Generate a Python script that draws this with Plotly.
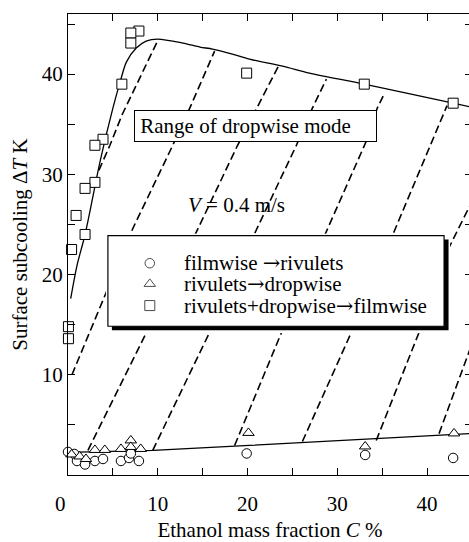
import plotly.graph_objects as go

# ---------------- data ----------------
# filmwise -> rivulets (open circles)
film_c = [0.0, 0.7, 1.0, 1.9, 3.0, 3.9, 5.9, 6.8, 7.0, 7.9, 19.9, 33.1, 42.9]
film_t = [2.3, 2.1, 1.4, 1.05, 1.4, 1.6, 1.4, 1.7, 2.15, 1.4, 2.15, 2.0, 1.7]

# rivulets -> dropwise (open triangles)
riv_c = [0.4, 1.3, 2.0, 3.0, 4.1, 5.9, 7.0, 7.0, 8.1, 20.1, 33.1, 43.0]
riv_t = [2.05, 1.85, 1.6, 2.5, 2.5, 2.6, 3.45, 2.8, 2.6, 4.2, 2.85, 4.15]

# rivulets+dropwise -> filmwise (open squares)
drop_c = [7.9, 7.0, 7.0, 6.0, 3.9, 3.0, 3.0, 1.9, 0.9, 1.9, 0.4, 0.05, 0.05, 19.9, 33.0, 42.9]
drop_t = [44.3, 44.1, 43.1, 39.0, 33.5, 32.9, 29.2, 28.6, 25.9, 24.0, 22.5, 14.8, 13.6, 40.1, 39.0, 37.1]

# upper boundary of the dropwise range
upper_c = [0.3, 1.0, 1.9, 3.6, 5.0, 5.8, 6.5, 7.6, 8.7, 10.0, 12.8, 14.7, 16.1, 18.3,
           20.2, 23.9, 26.9, 33.0, 42.9, 45.0]
upper_t = [17.6, 20.9, 24.0, 31.4, 36.6, 39.2, 41.2, 42.6, 43.3, 43.5, 43.1, 42.7, 42.5, 42.0,
           41.5, 40.8, 40.1, 39.0, 37.1, 36.7]

# lower boundary (onset of rivulets)
lower_c = [0.0, 9.5, 20.2, 26.1, 45.0]
lower_t = [2.25, 2.45, 2.95, 3.25, 4.15]

# dashed guide lines inside the dropwise range
dash1_c = [0.44, 4.33, 7.22, 11.67, 13.56, 16.33]
dash1_t = [10.0, 18.4, 24.6, 32.9, 36.6, 42.3]
dash2_c = [2.22, 8.89, 14.33, 18.89, 21.0, 23.44]
dash2_t = [2.46, 14.45, 24.3, 32.9, 36.6, 40.8]
dash3_c = [9.44, 15.78, 21.0, 25.44, 27.22, 28.78]
dash3_t = [2.46, 14.25, 24.5, 32.9, 36.6, 39.5]
dash4_c = [18.56, 23.89, 28.78, 33.22, 34.44, 35.1]
dash4_t = [2.95, 14.45, 24.3, 33.3, 36.6, 37.8]
dash5_c = [26.11, 31.67, 36.33, 42.22]
dash5_t = [3.34, 14.45, 24.3, 36.86]
dash6_c = [34.33, 39.11, 42.11, 44.6, 45.0]
dash6_t = [3.44, 14.25, 22.1, 26.5, 27.3]
dash7_c = [41.33, 44.44, 45.0]
dash7_t = [4.13, 11.7, 13.1]
dash8_c = [3.44, 4.67, 6.0, 7.22, 8.33, 9.89]
dash8_t = [30.4, 32.9, 35.9, 38.2, 40.3, 43.15]

x_ticks = [0, 5, 10, 15, 20, 25, 30, 35, 40, 45]
x_labels = ["0\u00a0\u00a0\u00a0", "", "10", "", "20", "", "30", "", "40", ""]
y_ticks = [0, 5, 10, 15, 20, 25, 30, 35, 40, 45]
y_labels = ["", "", "10", "", "20", "", "30", "", "40", ""]

ARROW = '<span style="font-family:DejaVu Serif">\u2192</span>'
series_names = ["filmwise " + ARROW + "rivulets", "rivulets" + ARROW + "dropwise",
                "rivulets+dropwise" + ARROW + "filmwise"]
series_symbols = ["circle", "triangle-up", "square"]
series_sizes = [9.5, 10, 10]

FONT = "Liberation Serif, Times New Roman, serif"
FS = 21

fig = go.Figure()

dash_style = dict(color="black", width=1.6, dash="8px,4px")
for c, t in [(dash1_c, dash1_t), (dash2_c, dash2_t), (dash3_c, dash3_t), (dash4_c, dash4_t),
             (dash5_c, dash5_t), (dash6_c, dash6_t), (dash7_c, dash7_t), (dash8_c, dash8_t)]:
    fig.add_trace(go.Scatter(x=c, y=t, mode="lines", line=dash_style,
                             showlegend=False, hoverinfo="skip"))

fig.add_trace(go.Scatter(x=upper_c, y=upper_t, mode="lines",
                         line=dict(color="black", width=1.3, shape="spline", smoothing=0.8),
                         showlegend=False, hoverinfo="skip"))
fig.add_trace(go.Scatter(x=lower_c, y=lower_t, mode="lines",
                         line=dict(color="black", width=1.3),
                         showlegend=False, hoverinfo="skip"))

for (c, t), name, sym, sz in zip([(film_c, film_t), (riv_c, riv_t), (drop_c, drop_t)],
                                 series_names, series_symbols, series_sizes):
    fig.add_trace(go.Scatter(x=c, y=t, mode="markers", name=name, cliponaxis=False,
                             marker=dict(symbol=sym, size=sz, color="white",
                                         line=dict(color="black", width=1)),
                             showlegend=False))

# ---- legend panel, laid out on its own pixel-unit axes ----
L_LEFT, L_RIGHT, L_TOP, L_BOTTOM = 106, 451, 237, 338
P_LEFT, P_RIGHT, P_TOP, P_BOTTOM = 68, 473, 14, 482
pw, ph = P_RIGHT - P_LEFT, P_BOTTOM - P_TOP
row_y = [267, 288, 310]
mark_x = 150
text_x = 182

fig.add_trace(go.Scatter(x=[mark_x] * 3, y=row_y, xaxis="x2", yaxis="y2", mode="markers",
                         cliponaxis=False, showlegend=False, hoverinfo="skip",
                         marker=dict(symbol=series_symbols, size=series_sizes, color="white",
                                     line=dict(color="black", width=1))))

fig.add_shape(type="rect", xref="x2", yref="y2", layer="below",
              x0=112, x1=449.5, y0=243, y1=335, fillcolor="black", line_width=0)
fig.add_shape(type="rect", xref="x2", yref="y2", layer="below",
              x0=108, x1=445, y0=239, y1=331, fillcolor="white",
              line=dict(color="black", width=1.2))

for name, y in zip(series_names, row_y):
    fig.add_annotation(x=text_x, y=y, xref="x2", yref="y2", text=name, showarrow=False,
                       xanchor="left", yanchor="middle",
                       font=dict(family=FONT, size=FS, color="black"))

# ---- annotations on the main axes ----
fig.add_annotation(x=20.94, y=34.8, xref="x", yref="y", text="\u00a0Range of dropwise mode",
                   showarrow=False, width=241, height=30, align="left", borderpad=0,
                   bordercolor="black", borderwidth=1, bgcolor="white",
                   font=dict(family=FONT, size=FS, color="black"))
fig.add_annotation(x=18.8, y=26.9, xref="x", yref="y", text="<i>V</i> = 0.4 m/s",
                   showarrow=False, font=dict(family=FONT, size=FS, color="black"))

axis_common = dict(showline=True, linecolor="black", linewidth=1, mirror="ticks",
                   ticks="inside", ticklen=7, tickwidth=1, tickcolor="black",
                   showgrid=False, zeroline=False,
                   tickfont=dict(family=FONT, size=FS, color="black"))

fig.update_layout(
    width=476, height=542,
    margin=dict(l=P_LEFT, r=476 - P_RIGHT, t=P_TOP, b=542 - P_BOTTOM),
    paper_bgcolor="white", plot_bgcolor="white",
    showlegend=False,
    xaxis=dict(range=[0, 45], tickmode="array", tickvals=x_ticks, ticktext=x_labels,
               ticklabelstandoff=10,
               title=dict(text="Ethanol mass fraction <i>C</i> %",
                          font=dict(family=FONT, size=FS, color="black"), standoff=8),
               **axis_common),
    yaxis=dict(range=[0, 46], tickmode="array", tickvals=y_ticks, ticktext=y_labels,
               title=dict(text="Surface subcooling \u0394<i>T</i> K\u00a0\u00a0\u00a0\u00a0",
                          font=dict(family=FONT, size=FS, color="black"), standoff=8),
               **axis_common),
    xaxis2=dict(range=[L_LEFT, L_RIGHT], anchor="y2", visible=False, fixedrange=True,
                domain=[(L_LEFT - P_LEFT) / pw, (L_RIGHT - P_LEFT) / pw]),
    yaxis2=dict(range=[L_BOTTOM, L_TOP], anchor="x2", visible=False, fixedrange=True,
                domain=[(P_BOTTOM - L_BOTTOM) / ph, (P_BOTTOM - L_TOP) / ph]),
)

fig.write_html("out.html")
